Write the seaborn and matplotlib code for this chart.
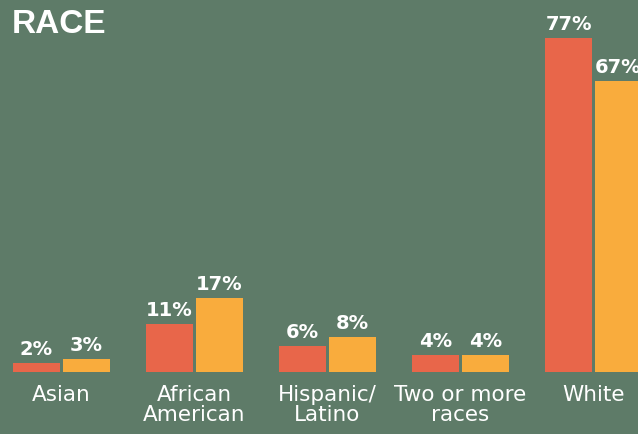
import matplotlib
matplotlib.use('Agg')
import matplotlib.pyplot as plt
import seaborn as sns
import pandas as pd

# dados
categorias = ['Asian', 'African\nAmerican', 'Hispanic/\nLatino', 'Two or more\nraces', 'White']
serie_a = [2, 11, 6, 4, 77]
serie_b = [3, 17, 8, 4, 67]
nomes_series = ['Series A', 'Series B']

fundo = '#5E7B68'
cores = ['#E8664A', '#F9AC3D']

df = pd.DataFrame({
    'categoria': categorias * 2,
    'valor': serie_a + serie_b,
    'serie': [nomes_series[0]] * len(categorias) + [nomes_series[1]] * len(categorias),
})

sns.set_style('white')
plt.rcParams['font.family'] = ['DejaVu Sans']

fig = plt.figure(figsize=(6.38, 4.35), dpi=100, facecolor=fundo)
ax = fig.add_axes([0, 62 / 435, 1, 373 / 435])
ax.set_facecolor(fundo)

sns.barplot(data=df, x='categoria', y='valor', hue='serie', palette=cores,
            width=0.75, gap=0.06, legend=False, ax=ax, saturation=1,
            linewidth=0, edgecolor='none')

for cont in ax.containers:
    ax.bar_label(cont, labels=[f'{int(v)}%' for v in cont.datavalues],
                 padding=3.5, color='white', fontsize=14, fontweight='bold')

ax.set_xlim(-0.4624, -0.4624 + 638 / 133)
ax.set_ylim(0, 85.9)
ax.set_xlabel('')
ax.set_ylabel('')
ax.set_yticks([])
ax.tick_params(axis='x', length=0, pad=9, labelsize=15.5, labelcolor='white')
for lbl in ax.get_xticklabels():
    lbl.set_linespacing(0.95)
for s in ax.spines.values():
    s.set_visible(False)

fig.text(12 / 638, 1 - 9 / 435, 'RACE', color='white', fontsize=24,
         fontweight='bold', family=['Liberation Sans', 'DejaVu Sans'], va='top', ha='left')

fig.savefig('out.png', dpi=100, facecolor=fundo)
